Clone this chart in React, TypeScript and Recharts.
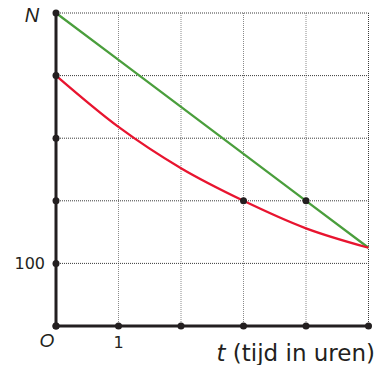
import React from 'react';
import { LineChart, Line, XAxis, YAxis, CartesianGrid, ReferenceDot, ReferenceLine, Label } from 'recharts';

const times = [0, 1, 2, 3, 4, 5];
const greenValues = [500, 425, 350, 275, 200, 125];
const redValues = [400, 318, 252, 200, 156, 125];
const xTicks = [0, 1, 2, 3, 4, 5];
const yTicks = [0, 100, 200, 300, 400, 500];
const xLabelShown = [1];
const yLabelShown = [100];
const greenMarked = [4];
const redMarked = [3];

const data = times.map((t, i) => ({ t, green: greenValues[i], red: redValues[i] }));

const INK = '#231f20';
const FONT = '"DejaVu Sans", Verdana, sans-serif';

const XTick = (props: any) => {
  const { x, y, payload } = props;
  const v = payload.value;
  if (v === 0) {
    return (
      <text x={x - 9} y={y + 19} textAnchor="middle" fontFamily='"Liberation Sans", Arial, sans-serif' fontStyle="italic" fontSize={19} fill={INK}>O</text>
    );
  }
  if (xLabelShown.includes(v)) {
    return (
      <text x={x} y={y + 20} textAnchor="middle" fontFamily={FONT} fontSize={16} fill={INK}>{v}</text>
    );
  }
  return <g />;
};

const YTick = (props: any) => {
  const { x, y, payload } = props;
  const v = payload.value;
  if (v === 500) {
    return (
      <text x={x - 22} y={y + 9} textAnchor="middle" fontFamily='"Liberation Sans", Arial, sans-serif' fontStyle="italic" fontSize={20} fill={INK}>N</text>
    );
  }
  if (yLabelShown.includes(v)) {
    return (
      <text x={x - 9} y={y + 6} textAnchor="end" fontFamily={FONT} fontSize={16} fill={INK}>{v}</text>
    );
  }
  return <g />;
};

const AxisTitle = (props: any) => {
  const vb = props.viewBox || {};
  return (
    <text x={375} y={(vb.y ?? 326) + 35} textAnchor="end" fontFamily={FONT} fontSize={23} fill={INK}>
      <tspan fontStyle="italic">t</tspan>
      <tspan> (tijd in uren)</tspan>
    </text>
  );
};

export default function App() {
  return (
    <div style={{ position: 'absolute', left: 0, top: 0, width: 379, height: 365, background: '#fff' }}>
      <LineChart width={379} height={365} data={data} margin={{ top: 13, right: 10.5, bottom: 0, left: 0 }}>
        <CartesianGrid horizontal={false} vertical={true} stroke="#8a8a8a" strokeDasharray="1 1" />
        <CartesianGrid horizontal={true} vertical={false} stroke="#3a3a3a" strokeDasharray="1 1" />
        <XAxis
          type="number"
          dataKey="t"
          domain={[0, 5]}
          ticks={xTicks}
          height={39}
          tickSize={0}
          tickLine={false}
          axisLine={{ stroke: INK, strokeWidth: 3 }}
          tick={<XTick />}
          interval={0}
        >
          <Label content={<AxisTitle />} />
        </XAxis>
        <YAxis
          type="number"
          domain={[0, 500]}
          ticks={yTicks}
          width={56}
          tickSize={0}
          tickLine={false}
          axisLine={{ stroke: INK, strokeWidth: 3 }}
          tick={<YTick />}
          interval={0}
        />
        <ReferenceLine x={5} stroke="#3a3a3a" strokeDasharray="1 1" />
        <Line type="linear" dataKey="green" stroke="#4a9e3c" strokeWidth={2.3} dot={false} isAnimationActive={false} />
        <Line type="monotone" dataKey="red" stroke="#e8142f" strokeWidth={2.3} dot={false} isAnimationActive={false} />
        {xTicks.map((t) => (
          <ReferenceDot key={'xd' + t} x={t} y={0} r={3.5} fill={INK} stroke="none" ifOverflow="visible" />
        ))}
        {yTicks.map((v) => (
          <ReferenceDot key={'yd' + v} x={0} y={v} r={3.5} fill={INK} stroke="none" ifOverflow="visible" />
        ))}
        {greenMarked.map((t) => (
          <ReferenceDot key={'gd' + t} x={t} y={greenValues[times.indexOf(t)]} r={3.5} fill={INK} stroke="none" />
        ))}
        {redMarked.map((t) => (
          <ReferenceDot key={'rd' + t} x={t} y={redValues[times.indexOf(t)]} r={3.5} fill={INK} stroke="none" />
        ))}
      </LineChart>
    </div>
  );
}
